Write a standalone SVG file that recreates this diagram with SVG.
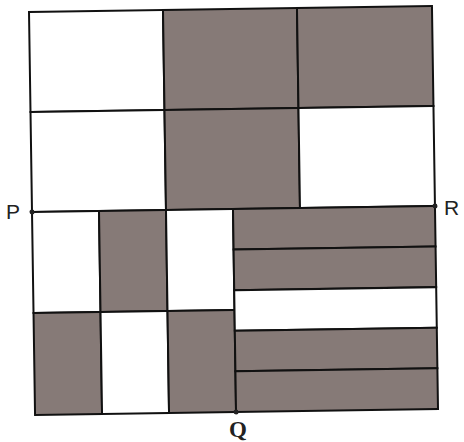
<svg xmlns="http://www.w3.org/2000/svg" width="464" height="442" viewBox="0 0 464 442">
<style>
.g{fill:#867a77;stroke:#111;stroke-width:2}
.w{fill:#fff;stroke:#111;stroke-width:2}
.dot{fill:#222}
.lbl{font-family:"Liberation Sans",Arial,sans-serif;font-size:21px;fill:#222}
.lblq{font-family:"Liberation Serif","Times New Roman",serif;font-size:23px;font-weight:bold;fill:#222}
</style>
<rect width="464" height="442" fill="#fff"/>
<g transform="translate(29,12) rotate(-0.86)">
<g id="top">
<rect class="w" x="0" y="0" width="134" height="100"/>
<rect class="g" x="134" y="0" width="134" height="100"/>
<rect class="g" x="268" y="0" width="135" height="100"/>
<rect class="w" x="0" y="100" width="134" height="100"/>
<rect class="g" x="134" y="100" width="134" height="100"/>
<rect class="w" x="268" y="100" width="135" height="100"/>
</g>
<g id="bottom-left">
<rect class="w" x="0" y="200" width="67" height="101"/>
<rect class="g" x="67" y="200" width="67" height="101"/>
<rect class="w" x="134" y="200" width="67" height="101"/>
<rect class="g" x="0" y="301" width="67" height="102"/>
<rect class="w" x="67" y="301" width="67" height="102"/>
<rect class="g" x="134" y="301" width="67" height="102"/>
</g>
<g id="bars">
<rect class="g" x="201" y="200" width="202" height="40.6"/>
<rect class="g" x="201" y="240.6" width="202" height="40.6"/>
<rect class="w" x="201" y="281.2" width="202" height="40.6"/>
<rect class="g" x="201" y="321.8" width="202" height="40.6"/>
<rect class="g" x="201" y="362.4" width="202" height="40.6"/>
</g>
<g id="points">
<circle class="dot" cx="0" cy="200" r="2.5"/>
<circle class="dot" cx="403" cy="200" r="2.5"/>
<circle class="dot" cx="201" cy="403" r="2.5"/>
</g>
</g>
<g id="labels">
<text class="lbl" x="6" y="219">P</text>
<text class="lbl" x="444" y="215" font-size="23">R</text>
<text class="lblq" x="229" y="437">Q</text>
</g>
</svg>
